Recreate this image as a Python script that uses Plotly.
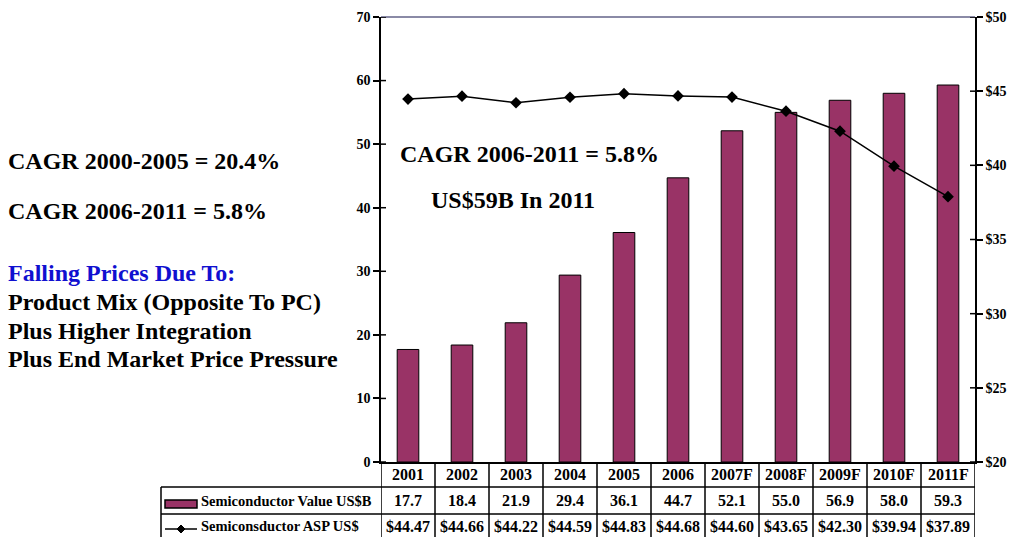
import plotly.graph_objects as go

categories = ["2001", "2002", "2003", "2004", "2005", "2006", "2007F", "2008F", "2009F", "2010F", "2011F"]
value_usb = [17.7, 18.4, 21.9, 29.4, 36.1, 44.7, 52.1, 55.0, 56.9, 58.0, 59.3]
asp_usd = [44.47, 44.66, 44.22, 44.59, 44.83, 44.68, 44.60, 43.65, 42.30, 39.94, 37.89]
left_ticks = [0, 10, 20, 30, 40, 50, 60, 70]
right_ticks = [20, 25, 30, 35, 40, 45, 50]
series_names = ["Semiconductor Value US$B", "Semiconsductor ASP US$"]
left_notes = ["CAGR 2000-2005 = 20.4%", "CAGR 2006-2011 = 5.8%"]
price_title = "Falling Prices Due To:"
price_reasons = ["Product Mix (Opposite To PC)", "Plus Higher Integration", "Plus End Market Price Pressure"]
inner_notes = ["CAGR 2006-2011 = 5.8%", "US$59B In 2011"]

W, H = 1010, 537
L, R, T, B = 381, 975, 17, 462          # plot area in page pixels
PW, PH = R - L, B - T

def px(x):
    return (x - L) / PW

def py(y):
    return (B - y) / PH

FONT = "Liberation Serif"
BAR = "#993366"
idx = list(range(len(categories)))

fig = go.Figure()
fig.add_trace(go.Bar(x=idx, y=value_usb, name=series_names[0], width=0.4,
                     marker=dict(color=BAR, line=dict(color="black", width=1)), yaxis="y"))
fig.add_trace(go.Scatter(x=idx, y=asp_usd, name=series_names[1], mode="lines+markers",
                         line=dict(color="black", width=1.5),
                         marker=dict(symbol="diamond", size=9, color="black"), yaxis="y2"))

axfont = dict(family=FONT, size=14, color="black", weight="bold")
fig.update_layout(
    width=W, height=H, margin=dict(l=L, r=W - R, t=T, b=H - B, autoexpand=False),
    paper_bgcolor="white", plot_bgcolor="white", showlegend=False,
    xaxis=dict(type="linear", showticklabels=False, showline=True, linecolor="black", linewidth=1.5,
               showgrid=False, zeroline=False, ticks="", range=[-0.5, len(categories) - 0.5],
               automargin=False),
    yaxis=dict(range=[0, 70], tickvals=left_ticks, ticks="outside", ticklen=6, tickwidth=1.5,
               tickcolor="black", showline=True, linecolor="black", linewidth=1.5,
               showgrid=False, zeroline=False, tickfont=axfont, automargin=False),
    yaxis2=dict(range=[20, 50], tickvals=right_ticks, ticktext=[f"${v}" for v in right_ticks],
                overlaying="y", side="right", ticks="outside", ticklen=6, tickwidth=1.5,
                tickcolor="black", showline=True, linecolor="black", linewidth=1.5,
                showgrid=False, zeroline=False, tickfont=axfont, automargin=False),
)

shapes = []
shapes.append(dict(type="line", xref="paper", yref="paper", x0=0, x1=1, y0=1, y1=1,
                   line=dict(color="#8a8aa6", width=2)))
for v in left_ticks:
    shapes.append(dict(type="line", xref="paper", yref="y", x0=0, x1=px(L + 5), y0=v, y1=v,
                       line=dict(color="black", width=1.5)))
for v in right_ticks:
    shapes.append(dict(type="line", xref="paper", yref="y2", x0=px(R - 5), x1=1, y0=v, y1=v,
                       line=dict(color="black", width=1.5)))

tline = dict(color="black", width=1.5)
ROW1, ROW2, BOT = 487, 514, 545
for k in range(len(categories) + 1):
    shapes.append(dict(type="line", xref="x", yref="paper", x0=k - 0.5, x1=k - 0.5,
                       y0=py(B), y1=py(BOT), line=tline))
for yy in (ROW1, ROW2):
    shapes.append(dict(type="line", xref="paper", yref="paper", x0=px(161), x1=1,
                       y0=py(yy), y1=py(yy), line=tline))
shapes.append(dict(type="line", xref="paper", yref="paper", x0=px(161), x1=px(161),
                   y0=py(ROW1), y1=py(BOT), line=tline))
shapes.append(dict(type="rect", xref="paper", yref="paper", x0=px(165), x1=px(197),
                   y0=py(500), y1=py(508), fillcolor=BAR, line=dict(color="black", width=1.5)))
shapes.append(dict(type="line", xref="paper", yref="paper", x0=px(165), x1=px(197),
                   y0=py(529), y1=py(529), line=dict(color="black", width=1.5)))
shapes.append(dict(type="path", xref="paper", yref="paper",
                   path=f"M {px(181)},{py(525)} L {px(185)},{py(529)} L {px(181)},{py(533)} L {px(177)},{py(529)} Z",
                   fillcolor="black", line=dict(color="black", width=1)))
fig.update_layout(shapes=shapes)

tfont = dict(family=FONT, size=16, color="black", weight="bold")
lfont = dict(family=FONT, size=14.5, color="black", weight="bold")
ann = []
R1C, R2C, R3C = 474, 501, 526
for i, (c, v, a) in enumerate(zip(categories, value_usb, asp_usd)):
    ann.append(dict(x=i, xref="x", y=py(R1C), yref="paper", text=c, showarrow=False,
                    font=tfont, xanchor="center", yanchor="middle"))
    ann.append(dict(x=i, xref="x", y=py(R2C), yref="paper", text=f"{v:.1f}", showarrow=False,
                    font=tfont, xanchor="center", yanchor="middle"))
    ann.append(dict(x=i, xref="x", y=py(R3C), yref="paper", text=f"${a:.2f}", showarrow=False,
                    font=tfont, xanchor="center", yanchor="middle"))
ann.append(dict(x=px(199), xref="paper", y=py(R2C), yref="paper", text=series_names[0],
                showarrow=False, font=lfont, xanchor="left", yanchor="middle"))
ann.append(dict(x=px(199), xref="paper", y=py(R3C), yref="paper", text=series_names[1],
                showarrow=False, font=lfont, xanchor="left", yanchor="middle"))

big = dict(family=FONT, size=24, color="black", weight="bold")
for t, yy in zip(left_notes, (161, 211)):
    ann.append(dict(x=px(6), xref="paper", y=py(yy), yref="paper", text=t, showarrow=False,
                    font=big, xanchor="left", yanchor="middle"))
ann.append(dict(x=px(6), xref="paper", y=py(273), yref="paper", text=price_title, showarrow=False,
                font=dict(family=FONT, size=24, color="#1010d0", weight="bold"),
                xanchor="left", yanchor="middle"))
for t, yy in zip(price_reasons, (302, 331, 359)):
    ann.append(dict(x=px(6), xref="paper", y=py(yy), yref="paper", text=t, showarrow=False,
                    font=big, xanchor="left", yanchor="middle"))
ann.append(dict(x=px(398), xref="paper", y=py(154), yref="paper", text=inner_notes[0],
                showarrow=False, font=big, xanchor="left", yanchor="middle"))
ann.append(dict(x=px(429), xref="paper", y=py(200), yref="paper", text=inner_notes[1],
                showarrow=False, font=big, xanchor="left", yanchor="middle"))
fig.update_layout(annotations=ann)

fig.write_html("out.html", config={"displayModeBar": False},
               post_script="document.body.style.margin='0';document.body.style.overflow='hidden';")
